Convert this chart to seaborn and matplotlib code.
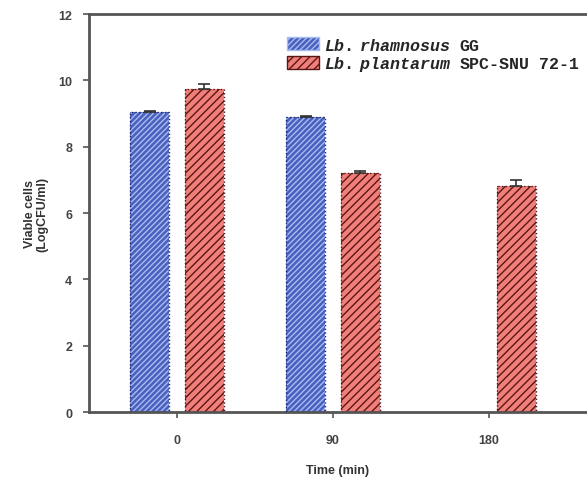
import pandas as pd
import matplotlib
matplotlib.use("Agg")
import matplotlib.pyplot as plt
import seaborn as sns
from matplotlib.patches import Rectangle

# Viable cell counts (LogCFU/ml)
times = ['0', '90', '180']
strains = ['Lb. rhamnosus GG', 'Lb. plantarum SPC-SNU 72-1']
gg_values = [9.05, 8.88]          # no count at 180 min
gg_errors = [0.03, 0.03]
spc_values = [9.73, 7.22, 6.80]
spc_errors = [0.15, 0.04, 0.20]

legend_labels = [r'$\mathit{Lb.\ rhamnosus}$ GG',
                 r'$\mathit{Lb.\ plantarum}$ SPC-SNU 72-1']

df = pd.DataFrame({
    'time': times[:len(gg_values)] + times,
    'strain': [strains[0]] * len(gg_values) + [strains[1]] * len(spc_values),
    'value': gg_values + spc_values,
    'err': gg_errors + spc_errors,
})

sns.set_style('ticks')
plt.rcParams['font.family'] = ['Liberation Sans', 'DejaVu Sans']
plt.rcParams['hatch.linewidth'] = 1.0
plt.rcParams['mathtext.fontset'] = 'custom'
plt.rcParams['mathtext.it'] = 'Liberation Mono:italic:bold'
plt.rcParams['mathtext.rm'] = 'Liberation Mono:bold'

fig = plt.figure(figsize=(5.87, 4.89), dpi=100)
ax = fig.add_axes([0.1516, 0.1554, 0.8484, 0.8139])

palette = {strains[0]: '#4d5fbc', strains[1]: '#f07f7a'}
sns.barplot(data=df, x='time', y='value', hue='strain', order=times,
            hue_order=strains, palette=palette, width=0.704, gap=0.29,
            saturation=1, errorbar=None, ax=ax)

hatches = ['//////', '////']
hatch_edges = ['#a4bdf4', '#5a1616']
outline = ['#1f2a66', '#5a1616']
bar_groups = list(ax.containers)[:2]
for k, cont in enumerate(bar_groups):
    sub = df[df['strain'] == strains[k]]
    for bar, e in zip(cont, sub['err']):
        bar.set_hatch(hatches[k])
        bar.set_edgecolor(hatch_edges[k])
        bar.set_linewidth(0)
        ax.add_patch(Rectangle(bar.get_xy(), bar.get_width(), bar.get_height(),
                               fill=False, ec=outline[k], lw=1.0, ls=':', zorder=3))
        cx = bar.get_x() + bar.get_width() / 2
        ax.errorbar(cx, bar.get_height(), yerr=[[0], [e]], fmt='none',
                    ecolor='#333333', elinewidth=1.2, capsize=4, capthick=1.2, zorder=4)

ax.set_xlim(-0.564, 2.628)
ax.set_ylim(0, 12)
ax.set_yticks([0, 2, 4, 6, 8, 10, 12])

for s in ['left', 'bottom', 'top']:
    ax.spines[s].set_color('#555555')
    ax.spines[s].set_linewidth(2)
ax.spines['right'].set_visible(False)
ax.tick_params(axis='both', direction='out', length=4, width=1.2, color='#555555',
               labelsize=9, labelcolor='#444444')
ax.tick_params(axis='x', pad=12)
ax.tick_params(axis='y', pad=8)
for t in ax.get_xticklabels() + ax.get_yticklabels():
    t.set_fontweight('bold')

ax.set_xlabel('Time (min)', fontsize=9, fontweight='bold', color='#333333', labelpad=13)
ax.set_ylabel('Viable cells\n(LogCFU/ml)', fontsize=9, fontweight='bold', color='#333333',
              labelpad=7, linespacing=1.1)

handles, _ = ax.get_legend_handles_labels()
for h, hk, he in zip(handles, hatches, hatch_edges):
    h.set_hatch(hk)
    h.set_edgecolor(he)
leg = ax.legend(handles, legend_labels, loc='upper left', bbox_to_anchor=(0.385, 0.96),
                frameon=False, fontsize=12, handlelength=1.9, handleheight=0.8,
                handletextpad=0.3, labelspacing=0.1, borderaxespad=0)
for t in leg.get_texts():
    t.set_family('Liberation Mono')
    t.set_fontweight('bold')

fig.savefig('out.png', dpi=100)
